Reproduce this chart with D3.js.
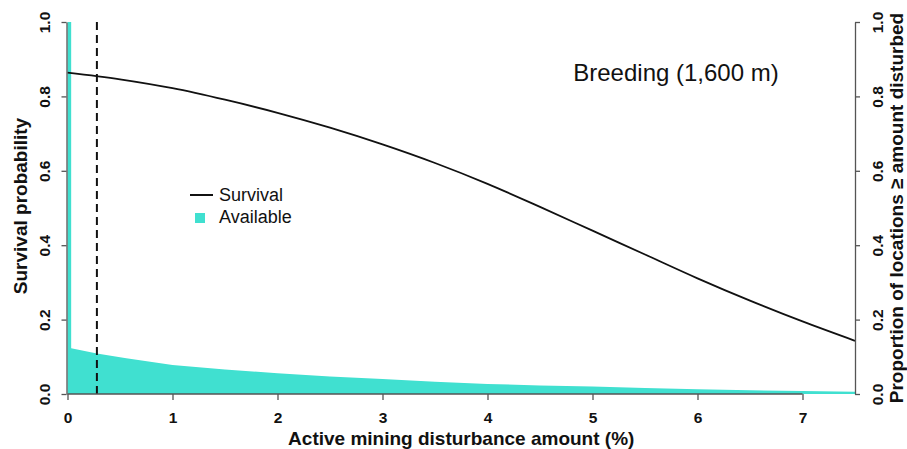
<!DOCTYPE html>
<html><head><meta charset="utf-8">
<script src="https://cdn.jsdelivr.net/npm/d3@7"></script>
<style>body{margin:0;background:#fff;} text{font-family:"Liberation Sans",Arial,sans-serif;}</style>
</head><body>
<svg id="c" width="907" height="449"></svg>
<script>
// Survival probability curve
const survX = [0, 0.5, 1, 1.5, 2, 2.5, 3, 3.5, 4, 4.5, 5, 5.5, 6, 6.5, 7, 7.5];
const survY = [0.864, 0.846, 0.822, 0.791, 0.756, 0.716, 0.671, 0.621, 0.565, 0.503, 0.439, 0.375, 0.311, 0.251, 0.195, 0.143];
// Proportion of locations >= amount disturbed (available)
const availX = [0, 0.035, 0.035, 0.28, 0.56, 1, 1.5, 2, 2.5, 3, 3.5, 4, 4.5, 5, 5.5, 6, 6.5, 7, 7.5];
const availY = [1.0, 1.0, 0.123, 0.109, 0.096, 0.078, 0.066, 0.056, 0.047, 0.040, 0.033, 0.027, 0.023, 0.020, 0.016, 0.013, 0.010, 0.008, 0.006];
const xTicks = [0, 1, 2, 3, 4, 5, 6, 7];
const yTicks = [0, 0.2, 0.4, 0.6, 0.8, 1.0];
const threshold = 0.28;
const title = "Breeding (1,600 m)";
const xTitle = "Active mining disturbance amount (%)";
const yTitle = "Survival probability";
const y2Title = "Proportion of locations \u2265 amount disturbed";
const legendLabels = ["Survival", "Available"];

const svg = d3.select("#c");
const x = d3.scaleLinear().domain([0, 7.5]).range([67.5, 855]);
const y = d3.scaleLinear().domain([0, 1]).range([394, 22]);
const teal = "#40E0D0";
const axisCol = "#555";

// available area
svg.append("path")
  .datum(availX.map((d, i) => [d, availY[i]]))
  .attr("fill", teal)
  .attr("d", d3.area().x(d => x(d[0])).y0(y(0)).y1(d => y(d[1])));

// dashed threshold
svg.append("line")
  .attr("x1", x(threshold)).attr("x2", x(threshold))
  .attr("y1", y(1)).attr("y2", y(0))
  .attr("stroke", "#111").attr("stroke-width", 2).attr("stroke-dasharray", "8,5");

// survival line
svg.append("path")
  .datum(survX.map((d, i) => [d, survY[i]]))
  .attr("fill", "none").attr("stroke", "#111").attr("stroke-width", 1.8)
  .attr("d", d3.line().curve(d3.curveCatmullRom).x(d => x(d[0])).y(d => y(d[1])));

// axes
function styleAxis(g) {
  g.select(".domain").attr("stroke", axisCol).attr("stroke-width", 1.3);
  g.selectAll(".tick line").attr("stroke", axisCol).attr("stroke-width", 1.3);
  g.selectAll(".tick text").attr("fill", "#111").style("font-size", "15.5px").style("font-weight", "bold");
}
const xa = svg.append("g").attr("transform", `translate(0,${y(0)})`)
  .call(d3.axisBottom(x).tickValues(xTicks).tickFormat(d3.format("d")).tickSize(6).tickSizeOuter(0).tickPadding(12));
styleAxis(xa);
xa.select(".domain").attr("d", `M${x(0)},0H${x(7)}`);

const ya = svg.append("g").attr("transform", `translate(${x(0) - 1},0)`)
  .call(d3.axisLeft(y).tickValues(yTicks).tickFormat(d3.format(".1f")).tickSize(5).tickSizeOuter(0));
styleAxis(ya);
ya.selectAll(".tick text").attr("transform", "rotate(-90)").attr("x", 0).attr("y", -22).attr("dy", "0.35em").attr("text-anchor", "middle");

const ya2 = svg.append("g").attr("transform", `translate(${x(7.5)},0)`)
  .call(d3.axisRight(y).tickValues(yTicks).tickFormat(d3.format(".1f")).tickSize(5).tickSizeOuter(0));
styleAxis(ya2);
ya2.selectAll(".tick text").attr("transform", "rotate(-90)").attr("x", 0).attr("y", 23).attr("dy", "0.35em").attr("text-anchor", "middle");

// titles
svg.append("text").attr("x", (x(0) + x(7.5)) / 2).attr("y", 445).attr("text-anchor", "middle")
  .style("font-size", "19px").style("font-weight", "bold").attr("fill", "#111").text(xTitle);
svg.append("text").attr("transform", `translate(27,${y(0.5) - 2}) rotate(-90)`).attr("text-anchor", "middle")
  .style("font-size", "19px").style("font-weight", "bold").attr("fill", "#111").text(yTitle);
svg.append("text").attr("transform", `translate(903,${y(0.5)}) rotate(-90)`).attr("text-anchor", "middle")
  .style("font-size", "19px").style("font-weight", "bold").attr("fill", "#111").text(y2Title);
svg.append("text").attr("x", 676).attr("y", 81).attr("text-anchor", "middle")
  .style("font-size", "24px").attr("fill", "#111").text(title);

// legend
const lg = svg.append("g");
lg.append("line").attr("x1", 190).attr("x2", 213).attr("y1", 195).attr("y2", 195).attr("stroke", "#111").attr("stroke-width", 2);
lg.append("rect").attr("x", 195).attr("y", 213).attr("width", 10).attr("height", 10).attr("fill", teal);
lg.selectAll("text.l").data(legendLabels).enter().append("text")
  .attr("x", 219).attr("y", (d, i) => 201 + i * 22)
  .style("font-size", "18px").attr("fill", "#111").text(d => d);
</script>
</body></html>
